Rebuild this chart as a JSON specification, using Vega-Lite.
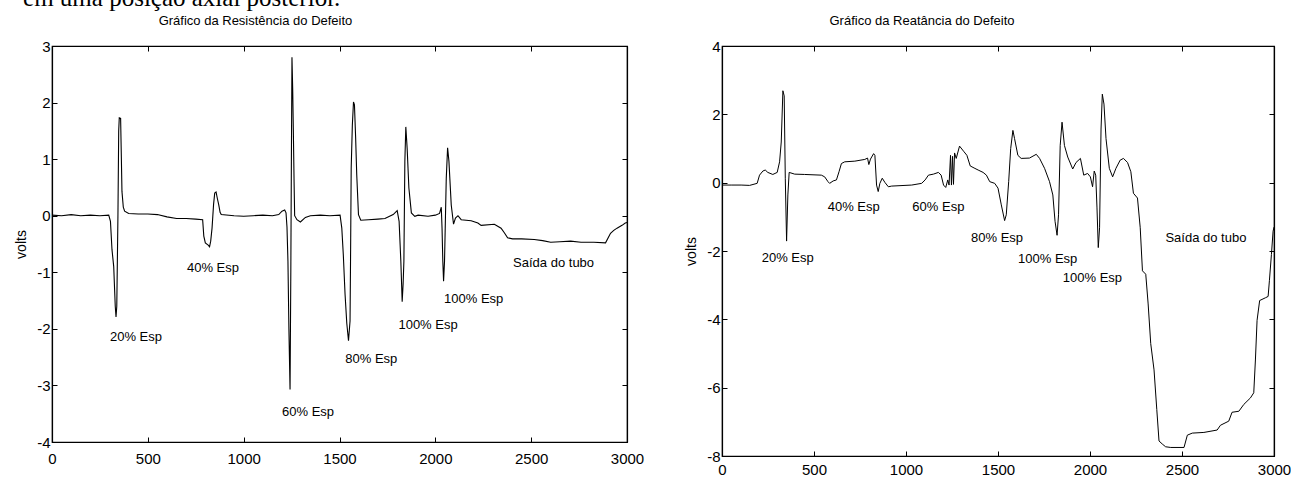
{
  "$schema": "https://vega.github.io/schema/vega-lite/v6.json",
  "padding": {"left": 14, "top": -14, "right": 4, "bottom": 0},
  "background": "white",
  "title": {"text": "em uma posição axial posterior.", "font": "Liberation Serif", "fontSize": 25, "fontWeight": "normal", "anchor": "start", "color": "black", "offset": 3, "dx": 9},
  "datasets": {
    "res": [
      {"x":0,"y":0.01},{"x":50,"y":0.0},{"x":100,"y":0.02},{"x":150,"y":0.0},{"x":200,"y":0.01},{"x":250,"y":0.0},{"x":296,"y":0.01},{"x":305,"y":-0.1},{"x":313,"y":-0.6},{"x":322,"y":-0.9},{"x":330,"y":-1.6},{"x":334,"y":-1.79},{"x":338,"y":-1.6},{"x":344,"y":0.0},{"x":348,"y":1.5},{"x":351,"y":1.73},{"x":358,"y":1.72},{"x":362,"y":1.0},{"x":365,"y":0.43},{"x":372,"y":0.15},{"x":379,"y":0.08},{"x":400,"y":0.04},{"x":450,"y":0.03},{"x":500,"y":0.03},{"x":550,"y":0.02},{"x":600,"y":-0.02},{"x":650,"y":-0.05},{"x":700,"y":-0.05},{"x":750,"y":-0.06},{"x":786,"y":-0.07},{"x":792,"y":-0.36},{"x":800,"y":-0.48},{"x":815,"y":-0.52},{"x":822,"y":-0.55},{"x":828,"y":-0.45},{"x":835,"y":-0.22},{"x":843,"y":0.2},{"x":849,"y":0.4},{"x":856,"y":0.42},{"x":863,"y":0.3},{"x":870,"y":0.19},{"x":877,"y":0.06},{"x":883,"y":0.02},{"x":950,"y":0.0},{"x":1000,"y":-0.01},{"x":1050,"y":0.0},{"x":1100,"y":0.01},{"x":1150,"y":0.0},{"x":1183,"y":0.02},{"x":1200,"y":0.08},{"x":1214,"y":0.1},{"x":1221,"y":0.05},{"x":1226,"y":-0.2},{"x":1231,"y":-0.8},{"x":1236,"y":-2.0},{"x":1242,"y":-3.07},{"x":1246,"y":-1.0},{"x":1249,"y":1.0},{"x":1252,"y":2.8},{"x":1256,"y":2.2},{"x":1259,"y":1.55},{"x":1263,"y":0.6},{"x":1266,"y":0.0},{"x":1278,"y":-0.07},{"x":1296,"y":-0.11},{"x":1322,"y":-0.03},{"x":1348,"y":0.0},{"x":1400,"y":0.01},{"x":1450,"y":0.0},{"x":1503,"y":0.01},{"x":1512,"y":-0.22},{"x":1520,"y":-0.7},{"x":1529,"y":-1.39},{"x":1538,"y":-1.9},{"x":1547,"y":-2.21},{"x":1555,"y":-1.86},{"x":1558,"y":-0.6},{"x":1561,"y":0.84},{"x":1567,"y":1.6},{"x":1573,"y":2.01},{"x":1578,"y":1.96},{"x":1584,"y":1.4},{"x":1590,"y":0.72},{"x":1599,"y":0.02},{"x":1611,"y":-0.08},{"x":1651,"y":-0.07},{"x":1700,"y":-0.06},{"x":1737,"y":-0.05},{"x":1780,"y":0.02},{"x":1801,"y":0.09},{"x":1811,"y":-0.1},{"x":1820,"y":-0.8},{"x":1827,"y":-1.52},{"x":1832,"y":-1.2},{"x":1836,"y":-0.8},{"x":1841,"y":0.96},{"x":1846,"y":1.57},{"x":1853,"y":1.19},{"x":1862,"y":0.49},{"x":1875,"y":0.05},{"x":1893,"y":-0.01},{"x":1910,"y":0.01},{"x":1962,"y":-0.01},{"x":2000,"y":0.01},{"x":2022,"y":0.04},{"x":2031,"y":0.15},{"x":2035,"y":-0.22},{"x":2039,"y":-0.8},{"x":2043,"y":-1.16},{"x":2048,"y":-0.8},{"x":2057,"y":0.66},{"x":2064,"y":1.2},{"x":2071,"y":0.96},{"x":2083,"y":0.19},{"x":2095,"y":-0.15},{"x":2105,"y":-0.04},{"x":2118,"y":0.0},{"x":2135,"y":-0.07},{"x":2187,"y":-0.09},{"x":2222,"y":-0.13},{"x":2239,"y":-0.17},{"x":2308,"y":-0.15},{"x":2343,"y":-0.22},{"x":2360,"y":-0.3},{"x":2377,"y":-0.39},{"x":2403,"y":-0.41},{"x":2450,"y":-0.41},{"x":2516,"y":-0.42},{"x":2560,"y":-0.44},{"x":2602,"y":-0.47},{"x":2650,"y":-0.46},{"x":2706,"y":-0.45},{"x":2760,"y":-0.47},{"x":2827,"y":-0.47},{"x":2888,"y":-0.48},{"x":2914,"y":-0.31},{"x":2931,"y":-0.26},{"x":2948,"y":-0.22},{"x":2974,"y":-0.17},{"x":2991,"y":-0.13},{"x":3000,"y":-0.12}
    ],
    "reat": [
      {"x":0,"y":-0.07},{"x":50,"y":-0.07},{"x":104,"y":-0.07},{"x":150,"y":-0.08},{"x":191,"y":-0.02},{"x":204,"y":0.22},{"x":222,"y":0.34},{"x":235,"y":0.37},{"x":249,"y":0.3},{"x":276,"y":0.24},{"x":300,"y":0.3},{"x":313,"y":0.61},{"x":322,"y":1.19},{"x":331,"y":2.69},{"x":338,"y":2.54},{"x":344,"y":0.13},{"x":351,"y":-1.71},{"x":358,"y":-0.36},{"x":365,"y":0.3},{"x":395,"y":0.25},{"x":449,"y":0.24},{"x":540,"y":0.22},{"x":558,"y":0.17},{"x":576,"y":0.03},{"x":585,"y":-0.02},{"x":604,"y":0.05},{"x":622,"y":0.08},{"x":636,"y":0.32},{"x":649,"y":0.56},{"x":667,"y":0.61},{"x":722,"y":0.63},{"x":776,"y":0.68},{"x":791,"y":0.72},{"x":798,"y":0.53},{"x":807,"y":0.69},{"x":824,"y":0.85},{"x":831,"y":0.8},{"x":840,"y":-0.07},{"x":849,"y":-0.26},{"x":858,"y":-0.02},{"x":871,"y":0.13},{"x":885,"y":0.01},{"x":904,"y":-0.12},{"x":922,"y":-0.1},{"x":1031,"y":-0.07},{"x":1085,"y":-0.02},{"x":1104,"y":0.08},{"x":1122,"y":0.22},{"x":1149,"y":0.25},{"x":1176,"y":0.3},{"x":1191,"y":0.22},{"x":1204,"y":-0.07},{"x":1216,"y":-0.14},{"x":1227,"y":0.08},{"x":1234,"y":-0.07},{"x":1242,"y":0.8},{"x":1247,"y":-0.07},{"x":1253,"y":0.77},{"x":1258,"y":-0.05},{"x":1264,"y":0.87},{"x":1273,"y":0.71},{"x":1291,"y":1.07},{"x":1313,"y":0.92},{"x":1331,"y":0.8},{"x":1349,"y":0.49},{"x":1370,"y":0.43},{"x":1392,"y":0.37},{"x":1419,"y":0.3},{"x":1437,"y":0.22},{"x":1455,"y":0.03},{"x":1482,"y":-0.02},{"x":1500,"y":-0.16},{"x":1518,"y":-0.65},{"x":1536,"y":-1.11},{"x":1545,"y":-0.94},{"x":1558,"y":0.03},{"x":1569,"y":1.0},{"x":1581,"y":1.53},{"x":1590,"y":1.29},{"x":1608,"y":0.8},{"x":1626,"y":0.71},{"x":1671,"y":0.72},{"x":1708,"y":0.83},{"x":1726,"y":0.71},{"x":1753,"y":0.42},{"x":1780,"y":0.03},{"x":1798,"y":-0.36},{"x":1810,"y":-1.13},{"x":1821,"y":-1.54},{"x":1829,"y":-0.94},{"x":1838,"y":1.09},{"x":1848,"y":1.77},{"x":1861,"y":1.09},{"x":1879,"y":0.75},{"x":1906,"y":0.4},{"x":1924,"y":0.59},{"x":1948,"y":0.71},{"x":1966,"y":0.22},{"x":1987,"y":0.27},{"x":2002,"y":0.17},{"x":2014,"y":-0.12},{"x":2023,"y":0.34},{"x":2031,"y":0.22},{"x":2038,"y":-0.74},{"x":2045,"y":-1.9},{"x":2052,"y":-1.32},{"x":2060,"y":1.57},{"x":2067,"y":2.59},{"x":2076,"y":2.3},{"x":2087,"y":1.29},{"x":2105,"y":0.42},{"x":2123,"y":0.17},{"x":2141,"y":0.42},{"x":2164,"y":0.66},{"x":2182,"y":0.71},{"x":2204,"y":0.59},{"x":2222,"y":0.32},{"x":2236,"y":-0.31},{"x":2258,"y":-0.45},{"x":2273,"y":-1.32},{"x":2285,"y":-2.58},{"x":2303,"y":-2.68},{"x":2316,"y":-3.55},{"x":2330,"y":-4.71},{"x":2348,"y":-5.48},{"x":2363,"y":-6.64},{"x":2375,"y":-7.56},{"x":2393,"y":-7.65},{"x":2411,"y":-7.73},{"x":2439,"y":-7.75},{"x":2511,"y":-7.75},{"x":2529,"y":-7.39},{"x":2556,"y":-7.33},{"x":2619,"y":-7.31},{"x":2691,"y":-7.24},{"x":2709,"y":-7.1},{"x":2754,"y":-6.98},{"x":2772,"y":-6.72},{"x":2809,"y":-6.69},{"x":2836,"y":-6.49},{"x":2872,"y":-6.3},{"x":2890,"y":-6.15},{"x":2899,"y":-5.19},{"x":2908,"y":-4.03},{"x":2922,"y":-3.45},{"x":2953,"y":-3.37},{"x":2968,"y":-3.33},{"x":2975,"y":-2.87},{"x":2986,"y":-2.1},{"x":2995,"y":-1.42},{"x":3000,"y":-1.3}
    ],
    "resLab": [
      {"x":438,"y":-2.14,"t":"20% Esp"},{"x":840,"y":-0.93,"t":"40% Esp"},{"x":1336,"y":-3.47,"t":"60% Esp"},{"x":1666,"y":-2.53,"t":"80% Esp"},{"x":1962,"y":-1.94,"t":"100% Esp"},{"x":2200,"y":-1.47,"t":"100% Esp"},{"x":2617,"y":-0.84,"t":"Saída do tubo"}
    ],
    "reatLab": [
      {"x":357,"y":-2.2,"t":"20% Esp"},{"x":716,"y":-0.71,"t":"40% Esp"},{"x":1176,"y":-0.71,"t":"60% Esp"},{"x":1495,"y":-1.61,"t":"80% Esp"},{"x":1770,"y":-2.22,"t":"100% Esp"},{"x":2013,"y":-2.8,"t":"100% Esp"},{"x":2630,"y":-1.61,"t":"Saída do tubo"}
    ]
  },
  "hconcat": [
    {
      "width": 575, "height": 396,
      "title": {"text": "Gráfico da Resistência do Defeito", "dx": -84},
      "layer": [
        {
          "data": {"name": "res"},
          "mark": {"type": "line", "color": "black", "strokeWidth": 1.1},
          "encoding": {
            "x": {"field": "x", "type": "quantitative", "scale": {"domain": [0, 3000], "nice": false}, "axis": {"orient": "bottom", "values": [0,500,1000,1500,2000,2500,3000], "title": null, "labelPadding": 14}},
            "y": {"field": "y", "type": "quantitative", "scale": {"domain": [-4, 3], "nice": false}, "axis": {"orient": "left", "values": [-4,-3,-2,-1,0,1,2,3], "title": "volts"}}
          }
        },
        {
          "data": {"name": "res"},
          "mark": {"type": "line", "opacity": 0},
          "encoding": {
            "x": {"field": "x", "type": "quantitative", "axis": {"orient": "top", "values": [0,500,1000,1500,2000,2500,3000], "labels": false, "title": null}},
            "y": {"field": "y", "type": "quantitative", "axis": {"orient": "right", "values": [-4,-3,-2,-1,0,1,2,3], "labels": false, "title": null}}
          }
        },
        {
          "data": {"name": "resLab"},
          "mark": {"type": "text", "font": "Liberation Sans", "fontSize": 13, "color": "black", "align": "center", "baseline": "middle"},
          "encoding": {
            "x": {"field": "x", "type": "quantitative", "axis": null},
            "y": {"field": "y", "type": "quantitative", "axis": null},
            "text": {"field": "t"}
          }
        }
      ],
      "resolve": {"axis": {"x": "independent", "y": "independent"}}
    },
    {
      "width": 552, "height": 410,
      "title": {"text": "Gráfico da Reatância do Defeito", "dx": -76},
      "layer": [
        {
          "data": {"name": "reat"},
          "mark": {"type": "line", "color": "black", "strokeWidth": 1},
          "encoding": {
            "x": {"field": "x", "type": "quantitative", "scale": {"domain": [0, 3000], "nice": false}, "axis": {"orient": "bottom", "values": [0,500,1000,1500,2000,2500,3000], "title": null, "labelPadding": 11}},
            "y": {"field": "y", "type": "quantitative", "scale": {"domain": [-8, 4], "nice": false}, "axis": {"orient": "left", "values": [-8,-6,-4,-2,0,2,4], "title": "volts"}}
          }
        },
        {
          "data": {"name": "reat"},
          "mark": {"type": "line", "opacity": 0},
          "encoding": {
            "x": {"field": "x", "type": "quantitative", "axis": {"orient": "top", "values": [0,500,1000,1500,2000,2500,3000], "labels": false, "title": null}},
            "y": {"field": "y", "type": "quantitative", "axis": {"orient": "right", "values": [-8,-6,-4,-2,0,2,4], "labels": false, "title": null}}
          }
        },
        {
          "data": {"name": "reatLab"},
          "mark": {"type": "text", "font": "Liberation Sans", "fontSize": 13, "color": "black", "align": "center", "baseline": "middle"},
          "encoding": {
            "x": {"field": "x", "type": "quantitative", "axis": null},
            "y": {"field": "y", "type": "quantitative", "axis": null},
            "text": {"field": "t"}
          }
        }
      ],
      "resolve": {"axis": {"x": "independent", "y": "independent"}}
    }
  ],
  "spacing": 39,
  "config": {
    "view": {"stroke": "black", "strokeWidth": 1.2},
    "title": {"font": "Liberation Sans", "fontSize": 13, "fontWeight": "normal", "color": "black", "offset": 11, "anchor": "middle"},
    "axis": {
      "grid": false,
      "domainColor": "black",
      "domainWidth": 1.2,
      "tickColor": "black",
      "tickSize": -5,
      "labelColor": "black",
      "labelFont": "Liberation Sans",
      "labelFontSize": 15,
      "labelPadding": 7,
      "labelFlush": false,
      "labelOverlap": false,
      "labelBound": false,
      "labelExpr": "'' + datum.value",
      "titleFont": "Liberation Sans",
      "titleFontSize": 14,
      "titleFontWeight": "normal",
      "titleColor": "black",
      "titlePadding": 8
    }
  }
}
